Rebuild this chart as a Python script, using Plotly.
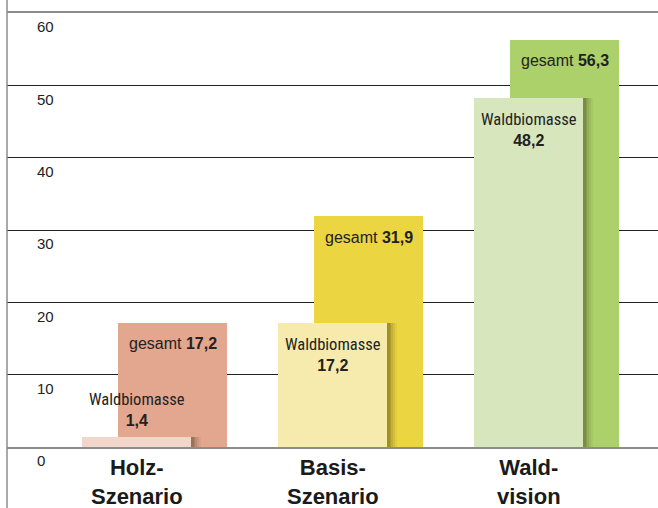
import plotly.graph_objects as go

# ---- data ----
categories = ["Holz-<br>Szenario", "Basis-<br>Szenario", "Wald-<br>vision"]
waldbiomasse = [1.4, 17.2, 48.2]
gesamt = [17.2, 31.9, 56.3]
y_tick_values = [0, 10, 20, 30, 40, 50, 60]
y_tick_labels = ["0", "10", "20", "30", "40", "50", "60"]

# ---- styles ----
wald_colors = ["#f3d6ca", "#f6ebad", "#d7e6bd"]
gesamt_colors = ["#e3a68f", "#ebd540", "#acd06a"]
text_color = "#222222"
PX = 196.0            # pixels per category unit
BAR_W = 109 / PX      # bar width in category units
G_SHIFT = 36 / PX     # gesamt bar shift to the right

pos = list(range(len(categories)))


def fmt(v):
    return f"{v:.1f}".replace(".", ",")


fig = go.Figure()

# gesamt bars (behind)
fig.add_trace(go.Bar(
    x=pos, y=gesamt, width=BAR_W, offset=-BAR_W / 2 + G_SHIFT,
    marker=dict(color=gesamt_colors, line=dict(width=0)),
    hoverinfo="skip", showlegend=False,
))

# soft shadow layers for the Waldbiomasse bars
for extra, alpha in [(9, 0.05), (7, 0.07), (5, 0.09), (3, 0.11), (1.5, 0.12)]:
    fig.add_trace(go.Bar(
        x=pos, y=waldbiomasse, width=BAR_W + extra / PX,
        offset=-BAR_W / 2 + 1 / PX,
        marker=dict(color=f"rgba(40,30,10,{alpha})", line=dict(width=0)),
        hoverinfo="skip", showlegend=False,
    ))

# Waldbiomasse bars (front)
fig.add_trace(go.Bar(
    x=pos, y=waldbiomasse, width=BAR_W, offset=-BAR_W / 2,
    marker=dict(color=wald_colors, line=dict(width=0)),
    hoverinfo="skip", showlegend=False,
))

annotations = []
for i in pos:
    annotations.append(dict(
        x=i + G_SHIFT, y=gesamt[i], xref="x", yref="y",
        text=f"gesamt <b>{fmt(gesamt[i])}</b>",
        showarrow=False, yanchor="middle", yshift=-21,
        font=dict(family="Liberation Sans, Arial, sans-serif", size=16, color=text_color),
    ))
    inside = waldbiomasse[i] > 5
    annotations.append(dict(
        x=i, y=waldbiomasse[i], xref="x", yref="y",
        text=("<span style='font-family:Liberation Sans Narrow, Arial Narrow, Roboto Condensed, sans-serif; font-size:16.5px'>"
              f"Waldbiomasse</span><br><b>{fmt(waldbiomasse[i])}</b>"),
        showarrow=False,
        yanchor="top" if inside else "bottom",
        yshift=-10 if inside else 6,
        font=dict(family="Liberation Sans, Arial, sans-serif", size=16, color=text_color),
    ))

fig.update_layout(
    width=658, height=508,
    margin=dict(l=7, r=0, t=13, b=61, pad=0),
    paper_bgcolor="white", plot_bgcolor="white",
    barmode="overlay", bargap=0,
    annotations=annotations,
    shapes=[dict(type="line", xref="paper", yref="paper", x0=0, x1=0, y0=-0.2, y1=1.1,
                 line=dict(color="#8c8c8c", width=1.5), layer="above")],
    xaxis=dict(
        range=[-129.8 / PX, (651 - 129.8) / PX],
        tickvals=pos, ticktext=categories,
        tickfont=dict(family="Liberation Sans, Arial, sans-serif", size=22, color="#1a1a1a", weight="bold"),
        ticks="", showgrid=False, zeroline=False,
        showline=True, mirror=True, linecolor="#8c8c8c", linewidth=2,
        automargin=False, fixedrange=True,
    ),
    yaxis=dict(
        range=[0, 60],
        tickvals=y_tick_values, ticktext=y_tick_labels,
        tickfont=dict(family="Liberation Sans, Arial, sans-serif", size=15, color=text_color),
        ticks="", ticklabelposition="inside", ticklabelstandoff=27, ticklabelshift=14,
        ticklabeloverflow="allow",
        showgrid=True, gridcolor="#222222", gridwidth=1.3, zeroline=False,
        showline=False, automargin=False, fixedrange=True,
    ),
)

fig.write_html(
    "out.html",
    config={"displayModeBar": False},
    post_script="document.body.style.margin='0';document.body.style.overflow='hidden';",
)
